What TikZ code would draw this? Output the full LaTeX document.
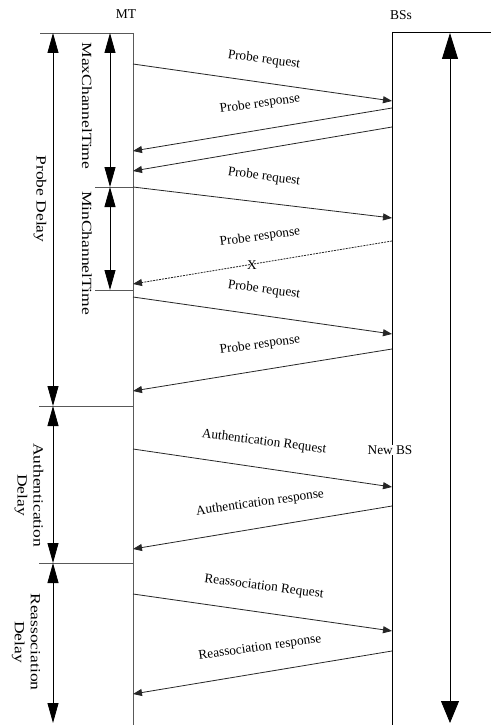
\documentclass[tikz,border=0pt]{standalone}
\usepackage{fontspec}
\setmainfont{Liberation Serif}
\newfontfamily\wideserif[FakeStretch=1.25]{Liberation Serif}
\usetikzlibrary{arrows.meta}
\begin{document}
\begin{tikzpicture}[x=1pt,y=-1pt,
  msg/.style={line width=0.8pt, draw=black!85, -{Triangle[length=9pt,width=7pt]}},
  life/.style={line width=0.8pt, draw=black!65},
  tick/.style={line width=0.8pt, draw=black!65},
  dim/.style={line width=0.8pt, {Triangle[length=20pt,width=11pt]}-{Triangle[length=20pt,width=11pt]}},
  bigdim/.style={line width=0.8pt, {Triangle[length=26pt,width=16pt]}-{Triangle[length=22pt,width=18pt]}},
  mlabel/.style={font=\fontsize{13.3}{15}\selectfont, inner sep=1pt},
  head/.style={font=\fontsize{13.5}{15}\selectfont, inner sep=1pt},
  vlabel/.style={font=\wideserif\fontsize{14}{16}\selectfont, rotate=-90, align=center, inner sep=0pt},
]
\useasboundingbox (0,0) rectangle (491,725);

% headers
\node[head] (mt) at (126,14) {MT};
\node[head] (bs) at (401,15) {BSs};

% lifelines
\coordinate (mtTop) at (133,33);
\coordinate (mtBot) at (133,725);
\coordinate (bsTop) at (392,32);
\coordinate (bsBot) at (392,725);
\coordinate (bsTopR) at (491,32);
\draw[life] (mtTop) -- (mtBot);
\draw[line width=0.8pt] (bsTop) -- (bsBot);
\draw[line width=0.8pt] (bsTop) -- (bsTopR);
\node[fill=white, inner sep=1pt, font=\fontsize{13.3}{15}\selectfont] (newbs) at (390,450) {New BS};

% ticks
\coordinate (t0l) at (40,33);
\coordinate (t1l) at (95,187);  \coordinate (t1r) at (133,187);
\coordinate (t2l) at (95,290);  \coordinate (t2r) at (133,290);
\coordinate (t3l) at (39,406);  \coordinate (t3r) at (133,406);
\coordinate (t4l) at (39,563);  \coordinate (t4r) at (133,563);
\draw[tick] (t0l) -- (mtTop);
\draw[tick] (t1l) -- (t1r);
\draw[tick] (t2l) -- (t2r);
\draw[tick] (t3l) -- (t3r);
\draw[tick] (t4l) -- (t4r);

% dimension arrows
\coordinate (pd1) at (53,33);  \coordinate (pd2) at (53,406);
\coordinate (ad2) at (53,563); \coordinate (rd2) at (53,723);
\coordinate (mx1) at (110,33); \coordinate (mx2) at (110,187);
\coordinate (mn2) at (110,290);
\coordinate (rt1) at (450,33); \coordinate (rt2) at (450,723);
\draw[dim] (pd1) -- (pd2);
\draw[dim] (pd2) -- (ad2);
\draw[dim] (ad2) -- (rd2);
\draw[dim] (mx1) -- (mx2);
\draw[dim] (mx2) -- (mn2);
\draw[bigdim] (rt1) -- (rt2);

% vertical labels
\node[vlabel] (lmax) at (87,106) {MaxChannelTime};
\node[vlabel] (lmin) at (87,253) {MinChannelTime};
\node[vlabel] (lpd) at (40,199) {Probe Delay};
\node[vlabel] (lad) at (29,495) {Authentication\\Delay};
\node[vlabel] (lrd) at (26,642) {Reassociation\\Delay};

% message endpoints
\coordinate (a1) at (133,64);  \coordinate (b1) at (392,101);
\coordinate (b2) at (392,108); \coordinate (a2) at (133,151);
\coordinate (b3) at (392,127); \coordinate (a3) at (133,171);
\coordinate (a4) at (133,187); \coordinate (b4) at (392,218);
\coordinate (b5) at (392,241); \coordinate (a5) at (133,284);
\coordinate (a6) at (133,297); \coordinate (b6) at (392,334);
\coordinate (b7) at (392,349); \coordinate (a7) at (133,391);
\coordinate (a8) at (133,449); \coordinate (b8) at (392,487);
\coordinate (b9) at (392,506); \coordinate (a9) at (133,549);
\coordinate (a10) at (133,594); \coordinate (b10) at (392,631);
\coordinate (b11) at (392,651); \coordinate (a11) at (133,694);

\draw[msg] (a1) -- (b1);
\draw[msg] (b2) -- (a2);
\draw[msg] (b3) -- (a3);
\draw[msg] (a4) -- (b4);
\draw[msg, dash pattern=on 2pt off 1pt] (b5) -- (a5);
\draw[msg] (a6) -- (b6);
\draw[msg] (b7) -- (a7);
\draw[msg] (a8) -- (b8);
\draw[msg] (b9) -- (a9);
\draw[msg] (a10) -- (b10);
\draw[msg] (b11) -- (a11);

% message labels
\node[mlabel, rotate=-7.5] (l1) at (264,60) {Probe request};
\node[mlabel, rotate=8] (l2) at (260,104) {Probe response};
\node[mlabel, rotate=-7.5] (l4) at (264,177) {Probe request};
\node[mlabel, rotate=8] (l5) at (260,237) {Probe response};
\node[mlabel] (lx) at (252,265) {X};
\node[mlabel, rotate=-7.5] (l6) at (264,290) {Probe request};
\node[mlabel, rotate=8] (l7) at (260,345) {Probe response};
\node[mlabel, rotate=-7.5] (l8) at (264,442) {Authentication Request};
\node[mlabel, rotate=8] (l9) at (260,503) {Authentication response};
\node[mlabel, rotate=-7.5] (l10) at (264,587) {Reassociation Request};
\node[mlabel, rotate=8] (l11) at (260,648) {Reassociation response};
\end{tikzpicture}
\end{document}
